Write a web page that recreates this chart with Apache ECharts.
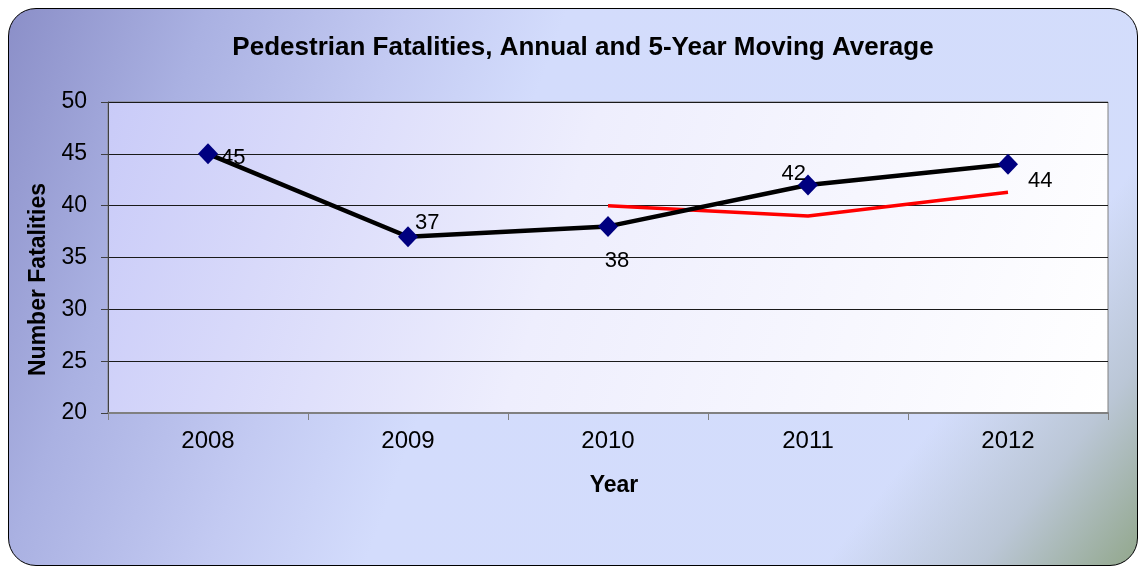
<!DOCTYPE html>
<html>
<head>
<meta charset="utf-8">
<script src="https://cdn.jsdelivr.net/npm/echarts@6/dist/echarts.min.js"></script>
<style>
  html, body { margin: 0; padding: 0; background: #fff; }
  #frame {
    position: absolute; left: 8px; top: 8px; width: 1128px; height: 556px;
    border: 1px solid #000; border-radius: 28px;
    background:
      linear-gradient(128deg, rgba(211,221,251,0) 80%, rgba(184,196,210,0.9) 90%, #92a78c 100%),
      linear-gradient(110deg, #8b8fc8 0%, #aab1e2 15%, #c3caf2 30%, #d3dcfc 42%, #d3ddfb 100%);
  }
  #chart { position: absolute; left: 0; top: 0; width: 1141px; height: 568px; }
</style>
</head>
<body>
<div id="frame"></div>
<div id="chart"></div>
<script>
  // data
  const years = ['2008', '2009', '2010', '2011', '2012']
  const annual = [45, 37, 38, 42, 44]
  const movingAvg = [null, null, 40, 39, 41.3]

  // label placement for each annual point
  const labelOpts = [
    { position: 'right', offset: [-2, 4] },
    { position: 'right', offset: [-8, -14] },
    { position: 'bottom', offset: [9, 8] },
    { position: 'left', offset: [13, -11] },
    { position: 'right', offset: [5, 17] }
  ]

  const chart = echarts.init(document.getElementById('chart'))
  const font = 'Liberation Sans, Arial, sans-serif'

  chart.setOption({
    backgroundColor: 'transparent',
    animation: false,
    textStyle: { fontFamily: font },
    title: {
      text: 'Pedestrian Fatalities, Annual and 5-Year Moving Average',
      left: 578, top: 30, textAlign: 'center',
      textStyle: { fontSize: 26, fontWeight: 'bold', color: '#000', fontFamily: font }
    },
    grid: {
      left: 108, right: 33, top: 102, bottom: 155,
      show: true,
      borderColor: '#808080', borderWidth: 1,
      backgroundColor: new echarts.graphic.LinearGradient(0, 0, 1, 1, [
        { offset: 0, color: '#c9cbf8' },
        { offset: 0.45, color: '#eeeefd' },
        { offset: 1, color: '#ffffff' }
      ])
    },
    xAxis: {
      type: 'category',
      data: years,
      boundaryGap: true,
      name: 'Year',
      nameLocation: 'middle',
      nameGap: 61,
      nameTextStyle: { fontSize: 23, fontWeight: 'bold', color: '#000', fontFamily: font, padding: [0, 0, 0, 12] },
      axisLine: { lineStyle: { color: '#808080', width: 2 } },
      axisTick: { show: true, length: 7, lineStyle: { color: '#808080' } },
      axisLabel: { fontSize: 24, color: '#000', margin: 16, fontFamily: font },
      splitLine: { show: false }
    },
    yAxis: {
      type: 'value',
      min: 20, max: 50, interval: 5,
      name: 'Number Fatalities',
      nameLocation: 'middle',
      nameGap: 57,
      nameRotate: 90,
      nameTextStyle: { fontSize: 23, fontWeight: 'bold', color: '#000', fontFamily: font, padding: [0, 44, 0, 0] },
      axisLine: { show: true, lineStyle: { color: '#404040' } },
      axisTick: { show: true, length: 7, lineStyle: { color: '#404040' } },
      axisLabel: { fontSize: 23, color: '#000', margin: 21, fontFamily: font },
      splitLine: { show: true, lineStyle: { color: '#1a1a1a', width: 1 } }
    },
    series: [
      {
        name: 'Annual',
        type: 'line',
        data: annual.map((v, i) => ({
          value: v,
          label: Object.assign({ show: true, fontSize: 22, color: '#000', fontFamily: font }, labelOpts[i])
        })),
        symbol: 'diamond',
        symbolSize: [20, 21],
        itemStyle: { color: '#000080' },
        lineStyle: { color: '#000', width: 4.5 },
        z: 3
      },
      {
        name: '5-Year Moving Average',
        type: 'line',
        data: movingAvg,
        symbol: 'none',
        lineStyle: { color: '#ff0000', width: 3.5 },
        z: 2
      }
    ]
  })
</script>
</body>
</html>
